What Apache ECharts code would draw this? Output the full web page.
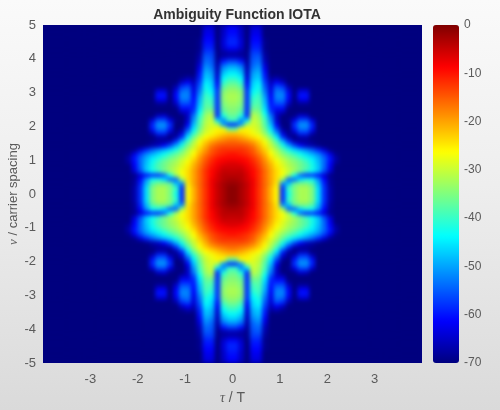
<!DOCTYPE html>
<html><head><meta charset="utf-8">
<script src="https://cdn.jsdelivr.net/npm/echarts@6/dist/echarts.min.js"></script>
<style>
html,body{margin:0;padding:0;background:#e6e6e6}
#plot{position:absolute;left:43px;top:25px;width:379px;height:338px;overflow:hidden;background:#00007f}
#heat{width:379px;height:338px;filter:blur(2px)}
#axes{position:absolute;left:0;top:0;width:500px;height:410px;filter:blur(0.6px)}
#page{position:absolute;left:0;top:0;width:500px;height:410px;background:linear-gradient(#fafafa,#eeeeee 45%,#dadada)}
</style>
</head><body><div id="page"></div><div id="axes"></div><div id="plot"><div id="heat"></div></div>
<script>
// Levels in dB; upper-right quadrant, row per nu step (0.0625 + k*0.125),
// column per tau step (0.0625 + k*0.125). Unlisted cells sit at the floor.
const floorDb = -70;
const tauTicks = [-3,-2,-1,0,1,2,3];
const colorbarTicks = [0,-10,-20,-30,-40,-50,-60,-70];
const quadrantDb = [
[-1,-3,-5,-8,-12,-16,-21,-26,-58,-42,-35,-32,-32,-35,-46,-58,-67,-70],
[-1,-3,-5,-8,-12,-16,-21,-26,-58,-40,-35,-32,-32,-35,-46,-58,-67,-70],
[-2,-3,-5,-8,-12,-16,-20,-25,-52,-48,-37,-35,-35,-38,-48,-59,-68,-70],
[-3,-4,-6,-8,-12,-16,-20,-24,-33,-54,-54,-46,-42,-43,-51,-61,-68,-70],
[-4,-4,-6,-9,-12,-16,-20,-24,-27,-33,-42,-54,-58,-58,-60,-64,-69,-70],
[-5,-5,-7,-9,-12,-16,-20,-24,-27,-30,-33,-36,-40,-43,-48,-56,-64,-70],
[-6,-6,-8,-10,-13,-17,-21,-25,-28,-31,-33,-36,-38,-42,-47,-54,-62,-70],
[-7,-8,-9,-11,-14,-18,-22,-26,-29,-32,-34,-36,-39,-43,-48,-54,-61,-68,-70],
[-9,-9,-10,-12,-15,-19,-24,-28,-31,-34,-36,-39,-42,-45,-49,-54,-60,-67,-70],
[-10,-11,-12,-14,-17,-21,-26,-30,-34,-37,-40,-43,-46,-49,-52,-57,-63,-69,-70],
[-12,-12,-13,-15,-19,-23,-28,-32,-37,-42,-46,-49,-52,-55,-59,-64,-69,-70],
[-14,-14,-15,-17,-21,-25,-30,-35,-42,-49,-56,-61,-65,-67,-69,-70],
[-16,-17,-18,-20,-23,-27,-32,-39,-48,-58,-66,-68,-68,-69,-70],
[-19,-20,-22,-24,-26,-30,-36,-45,-58,-67,-70,-67,-67,-70],
[-23,-24,-25,-27,-29,-34,-41,-51,-64,-69,-66,-58,-58,-66,-70],
[-38,-27,-26,-28,-30,-36,-45,-57,-68,-70,-60,-53,-53,-60,-70],
[-58,-50,-32,-29,-31,-38,-48,-62,-70,-70,-58,-51,-51,-59,-70],
[-40,-52,-46,-30,-32,-39,-51,-65,-70,-69,-63,-56,-56,-64,-70],
[-37,-42,-58,-31,-33,-41,-53,-65,-70,-70,-69,-64,-65,-70],
[-35,-38,-58,-34,-35,-44,-57,-64,-65,-70],
[-34,-36,-58,-37,-37,-46,-59,-60,-60,-69,-70],
[-33,-35,-58,-39,-38,-48,-60,-56,-56,-65,-70,-68,-68,-70],
[-32,-34,-58,-40,-39,-49,-61,-53,-53,-62,-70,-62,-62,-70],
[-32,-34,-58,-42,-40,-51,-62,-52,-52,-61,-70,-60,-60,-70],
[-33,-35,-58,-44,-42,-53,-63,-53,-54,-63,-70,-64,-64,-70],
[-35,-38,-60,-46,-43,-55,-64,-56,-58,-67,-70],
[-38,-41,-62,-47,-45,-57,-66,-62,-65,-70],
[-41,-44,-64,-49,-47,-59,-68,-67,-69,-70],
[-44,-47,-65,-50,-48,-60,-70],
[-47,-50,-66,-52,-50,-62,-70],
[-51,-54,-67,-54,-52,-64,-70],
[-57,-60,-68,-55,-54,-66,-70],
[-66,-67,-69,-56,-55,-67,-70],
[-67,-68,-69,-57,-57,-68,-70],
[-62,-65,-70,-59,-59,-69,-70],
[-59,-64,-70,-60,-60,-69,-70],
[-59,-64,-70,-61,-61,-69,-70],
[-60,-65,-70,-62,-62,-70],
[-61,-65,-70,-63,-63,-70],
[-62,-66,-70,-64,-64,-70]
];
const halfCols = 32, halfRows = quadrantDb.length;
const xCats = [], yCats = [], cells = [];
for (let i = 0; i < halfCols*2; i++) xCats.push(String(i));
for (let j = 0; j < halfRows*2; j++) yCats.push(String(j));
for (let j = 0; j < halfRows*2; j++) {
  const r = quadrantDb[j < halfRows ? halfRows-1-j : j-halfRows];
  for (let i = 0; i < halfCols*2; i++) {
    const k = i < halfCols ? halfCols-1-i : i-halfCols;
    cells.push([i, j, k < r.length ? r[k] : floorDb]);
  }
}
const jet = ['#00007f','#0000ff','#007fff','#00ffff','#7fff7f','#ffff00','#ff7f00','#ff0000','#7f0000'];
const txt = '#5a5a5a', font = '"Liberation Sans", Arial, sans-serif';
const plot = {left:43, top:25, width:379, height:338, outerBoundsMode:'none'};
const bar = {left:433, top:25, width:26, height:338, outerBoundsMode:'none'};

const heat = echarts.init(document.getElementById('heat'));
heat.setOption({
  animation:false,
  grid:{left:0,right:0,top:0,bottom:0,outerBoundsMode:'none'},
  xAxis:{type:'category',data:xCats,show:false},
  yAxis:{type:'category',data:yCats,show:false},
  visualMap:{type:'continuous',min:-70,max:0,show:false,seriesIndex:0,inRange:{color:jet}},
  series:[{type:'heatmap',data:cells,progressive:0,animation:false,emphasis:{disabled:true},itemStyle:{borderWidth:0}}]
});

const axes = echarts.init(document.getElementById('axes'));
axes.setOption({
  animation:false,
  title:{text:'Ambiguity Function IOTA',left:232,top:3,textAlign:'center',textStyle:{fontFamily:font,fontSize:14,fontWeight:'bold',color:'#333'}},
  grid:[plot,bar],
  xAxis:[
    {type:'value',gridIndex:0,min:-4,max:4,interval:1,position:'bottom',name:'{g|τ} / T',nameLocation:'middle',nameGap:28,
     nameTextStyle:{fontFamily:font,fontSize:14,color:txt,rich:{g:{fontFamily:'"Liberation Serif",serif',fontStyle:'italic',fontSize:14,color:txt}}},
     axisLine:{show:false},axisTick:{show:false},splitLine:{show:false},
     axisLabel:{color:txt,fontFamily:font,fontSize:13,margin:10,formatter:v=>tauTicks.includes(v)?String(v):''}},
    {type:'value',gridIndex:1,show:false,min:0,max:1}
  ],
  yAxis:[
    {type:'value',gridIndex:0,min:-5,max:5,interval:1,position:'left',name:'{g|ν} / carrier spacing',nameLocation:'middle',nameGap:23,nameMoveOverlap:false,
     nameTextStyle:{fontFamily:font,fontSize:13,color:txt,rich:{g:{fontFamily:'"Liberation Serif",serif',fontStyle:'italic',fontSize:13,color:txt}}},
     axisLine:{show:false},axisTick:{show:false},splitLine:{show:false},
     axisLabel:{color:txt,fontFamily:font,fontSize:13,margin:7}},
    {type:'value',gridIndex:1,min:-70,max:0,interval:10,position:'right',
     axisLine:{show:false},axisTick:{show:false},splitLine:{show:false},
     axisLabel:{color:txt,fontFamily:font,fontSize:12,margin:5,formatter:v=>colorbarTicks.includes(v)?String(v):''}}
  ],
  visualMap:{type:'continuous',min:-70,max:0,seriesIndex:[],left:bar.left,top:bar.top,itemWidth:bar.width,itemHeight:bar.height,padding:0,text:null,calculable:false,hoverLink:false,borderWidth:0,inRange:{color:jet},textStyle:{color:'transparent'}},
  series:[]
});
</script></body></html>
